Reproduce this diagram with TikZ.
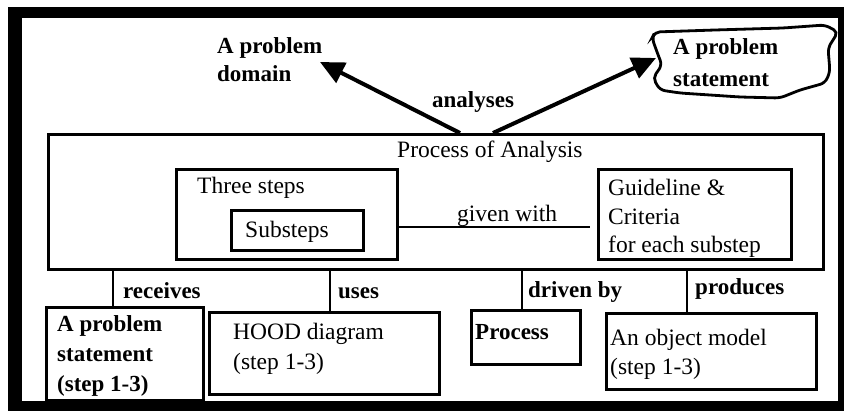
\documentclass[tikz,border=0pt]{standalone}
\usepackage{fontspec}
\setmainfont{Liberation Serif}
\usetikzlibrary{arrows.meta}
\begin{document}
\begin{tikzpicture}[x=1pt,y=-1pt,
  box/.style={draw,line width=2.8pt,inner sep=0pt,anchor=north west},
  conn/.style={line width=2.8pt},
  bigarrow/.style={line width=4pt,-{Triangle[length=24pt,width=22pt]}},
  txt/.style={anchor=base west,inner sep=0pt,font=\fontsize{23.5}{28}\selectfont},
  btxt/.style={anchor=base west,inner sep=0pt,font=\fontsize{23}{28}\selectfont\bfseries}]
\useasboundingbox (0,0) rectangle (850,412);
% outer frame
\fill[black] (8,7) rectangle (844,411);
\fill[white] (22,18) rectangle (838,401);
% main boxes
\node[box,minimum width=775pt,minimum height=135pt] (proc) at (47,133) {};
\node[box,minimum width=221pt,minimum height=90pt] (three) at (175,168) {};
\node[box,minimum width=132pt,minimum height=40pt] (sub) at (230,209) {};
\node[box,minimum width=193pt,minimum height=90pt] (guide) at (597,168) {};
% bottom boxes
\node[box,minimum width=157pt,minimum height=93pt] (aps) at (45,306) {};
\node[box,minimum width=230pt,minimum height=82pt] (hood) at (208,311) {};
\node[box,minimum width=109pt,minimum height=54pt] (prc) at (470,309) {};
\node[box,minimum width=210pt,minimum height=76pt] (obj) at (605,312) {};
% cloud
\draw[line width=2.8pt,rounded corners=5pt] (655,32) -- (715,30) -- (783,28) -- (825,25) -- (838,32)
  -- (828,48) -- (830,72) -- (825,83) -- (800,90) -- (780,98) -- (740,97) -- (680,93)
  -- (660,90) -- (653,78) -- (662,65) -- (657,52) -- (652,38) -- cycle;
% texts
\node[btxt] (dom1) at (217,53) {A problem};
\node[btxt] (dom2) at (217,81) {domain};
\node[btxt] (cl1) at (673,55) {A problem};
\node[btxt] (cl2) at (673,86) {statement};
\node[btxt] (anl) at (432,107) {analyses};
\node[txt] (pa) at (397,157) {Process of Analysis};
\node[txt] (ts) at (197,193) {Three steps};
\node[txt] (ss) at (245,237) {Substeps};
\node[txt] (gw) at (457,221) {given with};
\node[txt] (g1) at (608,195) {Guideline \&};
\node[txt] (g2) at (608,224) {Criteria};
\node[txt] (g3) at (608,252) {for each substep};
\node[btxt] (rcv) at (123,298) {receives};
\node[btxt] (use) at (338,298) {uses};
\node[btxt] (drv) at (528,297) {driven by};
\node[btxt] (prd) at (695,294) {produces};
\node[btxt] (a1) at (57,331) {A problem};
\node[btxt] (a2) at (57,361) {statement};
\node[btxt] (a3) at (57,391) {(step 1-3)};
\node[txt] (h1) at (233,339) {HOOD diagram};
\node[txt] (h2) at (233,369) {(step 1-3)};
\node[btxt] (p1) at (475,339) {Process};
\node[txt] (o1) at (610,345) {An object model};
\node[txt] (o2) at (610,374) {(step 1-3)};
% connectors
\coordinate (gend) at (590,227);
\draw[conn] (three.east |- gend) -- (gend);
\coordinate (c1) at (113,0);
\coordinate (c2) at (330,0);
\coordinate (c3) at (522,0);
\coordinate (c4) at (687,0);
\draw[conn] (proc.south -| c1) -- (aps.north -| c1);
\draw[conn] (proc.south -| c2) -- (hood.north -| c2);
\draw[conn] (proc.south -| c3) -- (prc.north -| c3);
\draw[conn] (proc.south -| c4) -- (obj.north -| c4);
% arrows
\coordinate (s1) at (460,133);
\coordinate (s2) at (493,133);
\coordinate (t1) at (320,62);
\coordinate (t2) at (656,58);
\draw[bigarrow] (s1) -- (t1);
\draw[bigarrow] (s2) -- (t2);
\end{tikzpicture}
\end{document}
